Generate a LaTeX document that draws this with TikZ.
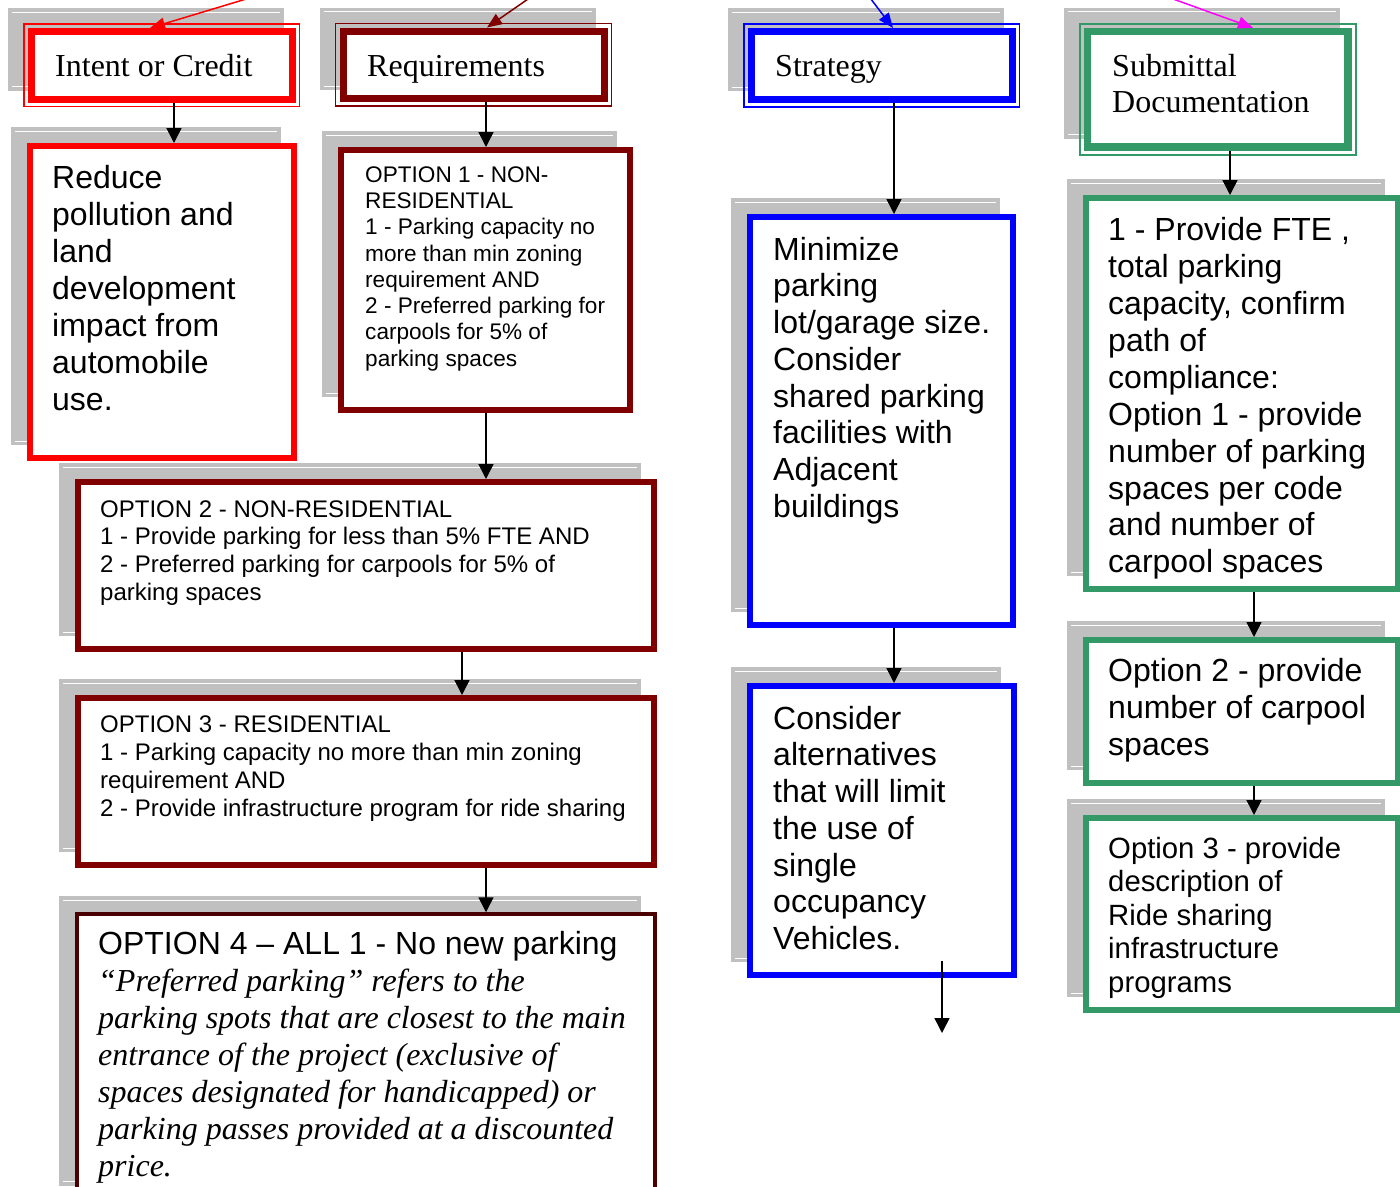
\documentclass[tikz,border=0pt]{standalone}
\usepackage{fontspec}
\setmainfont{Liberation Serif}
\setsansfont{Liberation Sans}
\usetikzlibrary{arrows.meta,backgrounds}

\definecolor{credRed}{HTML}{FF0000}
\definecolor{reqRed}{HTML}{800000}
\definecolor{noteRed}{HTML}{4A0000}
\definecolor{stratBlue}{HTML}{0000FF}
\definecolor{subGreen}{HTML}{339966}
\definecolor{pinkArrow}{HTML}{FF00FF}
\definecolor{shadowGray}{HTML}{C0C0C0}

\tikzset{
  panel/.style={draw=#1, fill=white, line width=6pt, rectangle, inner sep=0pt},
  header/.style={draw=#1, fill=white, line width=7pt, rectangle, inner sep=0pt},
  body/.style 2 args={anchor=north west, inner sep=0pt, align=left,
    font=\sffamily\fontsize{#1}{#2}\selectfont},
  title/.style={anchor=north west, inner sep=0pt, align=left,
    font=\rmfamily\fontsize{32}{36}\selectfont},
  conn/.style={draw=black, line width=1.5pt, -{Triangle[length=15pt,width=15pt]}},
  feed/.style={draw=#1, line width=1.5pt, -{Triangle[length=15pt,width=12pt]}},
}

% grey drop shade behind a box: #1 node, #2 extra margin beyond the border
\newcommand\dropshade[2]{%
  \fill[shadowGray] ([shift={(-16-#2,-16-#2)}]#1.north west) rectangle ([shift={(-16+#2,-16+#2)}]#1.south east);
  \draw[white, line width=1pt] ([shift={(-12-#2,-12-#2)}]#1.north west) -- ([shift={(-20+#2,-12-#2)}]#1.north east);
  \draw[white, line width=1pt] ([shift={(-12-#2,-20+#2)}]#1.south west) -- ([shift={(-20+#2,-20+#2)}]#1.south east);
}
% thin second frame around a column header
\newcommand\headframe[2]{%
  \draw[#2, line width=1.5pt] ([shift={(-4,-4)}]#1.north west) rectangle ([shift={(4,4)}]#1.south east);
}
\newcommand\capstrut{\rule{0pt}{.75em}}
\newcommand\notetext[1]{{\rmfamily\itshape #1}}

\begin{document}
\begin{tikzpicture}[x=1pt, y=-1pt]
\useasboundingbox (0,0) rectangle (1400,1186);

% ---- column headers
\node[header=credRed, minimum width=260.5pt, minimum height=67.5pt] (H1) at (161.75,65.25) {};
\node[header=reqRed, minimum width=261pt, minimum height=67.5pt] (H2) at (473.5,64.75) {};
\node[header=stratBlue, minimum width=260.5pt, minimum height=68pt] (H3) at (881.75,65.5) {};
\node[header=subGreen, line width=7.5pt, minimum width=260.5pt, minimum height=115.5pt] (H4) at (1217.75,89.25) {};
\headframe{H1}{credRed}
\headframe{H2}{reqRed}
\headframe{H3}{stratBlue}
\headframe{H4}{subGreen}

% ---- content boxes
\node[panel=credRed, minimum width=264pt, minimum height=312pt] (A) at (162,302) {};
\node[panel=reqRed, minimum width=289pt, minimum height=260pt] (B) at (485.5,280) {};
\node[panel=reqRed, minimum width=576pt, minimum height=167pt] (C) at (366,565.5) {};
\node[panel=reqRed, minimum width=576pt, minimum height=167pt] (O3) at (366,781.5) {};
\node[panel=noteRed, line width=3.5pt, minimum width=578pt, minimum height=286pt] (O4) at (366,1057) {};
\node[panel=stratBlue, minimum width=263pt, minimum height=408pt] (D) at (881.5,421) {};
\node[panel=stratBlue, minimum width=264pt, minimum height=289pt] (E) at (882,830.5) {};
\node[panel=subGreen, minimum width=312pt, minimum height=391pt] (F) at (1242,393.5) {};
\node[panel=subGreen, minimum width=312pt, minimum height=143pt] (G) at (1242,711.5) {};
\node[panel=subGreen, minimum width=312pt, minimum height=192pt] (H) at (1242,914) {};

\begin{scope}[on background layer]
  \dropshade{H1}{4}
  \dropshade{H2}{4}
  \dropshade{H3}{4}
  \dropshade{H4}{4}
  \dropshade{A}{0}
  \dropshade{B}{0}
  \dropshade{C}{0}
  \dropshade{O3}{0}
  \dropshade{O4}{0}
  \dropshade{D}{0}
  \dropshade{E}{0}
  \dropshade{F}{0}
  \dropshade{G}{0}
  \dropshade{H}{0}
\end{scope}

% ---- texts
\node[title] (tH1) at (55,52) {\capstrut Intent or Credit};
\node[title] (tH2) at (367,52) {\capstrut Requirements};
\node[title] (tH3) at (775,52) {\capstrut Strategy};
\node[title] (tH4) at (1112,52) {\capstrut Submittal\\Documentation};

\node[body={32}{37}] (tA) at (52,164) {\capstrut Reduce\\pollution and\\land\\development\\impact from\\automobile\\use.};
\node[body={22.6}{26.3}] (tB) at (365,165) {\capstrut OPTION 1 - NON-\\RESIDENTIAL\\1 - Parking capacity no\\more than min zoning\\requirement AND\\2 - Preferred parking for\\carpools for 5\% of\\parking spaces};
\node[body={24}{27.7}] (tC) at (100,499) {\capstrut OPTION 2 - NON-RESIDENTIAL\\1 - Provide parking for less than 5\% FTE AND\\2 - Preferred parking for carpools for 5\% of\\parking spaces};
\node[body={24}{28}] (tO3) at (100,714) {\capstrut OPTION 3 - RESIDENTIAL\\1 - Parking capacity no more than min zoning\\requirement AND\\2 - Provide infrastructure program for ride sharing};
\node[body={32}{37}] (tO4) at (98,930) {\capstrut OPTION 4 – ALL 1 - No new parking\\
  \notetext{“Preferred parking” refers to the}\\
  \notetext{parking spots that are closest to the main}\\
  \notetext{entrance of the project (exclusive of}\\
  \notetext{spaces designated for handicapped) or}\\
  \notetext{parking passes provided at a discounted}\\
  \notetext{price.}};
\node[body={32}{36.7}] (tD) at (773,236) {\capstrut Minimize\\parking\\lot/garage size.\\Consider\\shared parking\\facilities with\\Adjacent\\buildings};
\node[body={32}{36.7}] (tE) at (773,705) {\capstrut Consider\\alternatives\\that will limit\\the use of\\single\\occupancy\\Vehicles.};
\node[body={32}{36.9}] (tF) at (1108,216.5) {\capstrut 1 - Provide FTE ,\\total parking\\capacity, confirm\\path of\\compliance:\\Option 1 - provide\\number of parking\\spaces per code\\and number of\\carpool spaces};
\node[body={32}{37}] (tG) at (1108,657) {\capstrut Option 2 - provide\\number of carpool\\spaces};
\node[body={29.3}{33.5}] (tH) at (1108,836) {\capstrut Option 3 - provide\\description of\\Ride sharing\\infrastructure\\programs};

% ---- connector columns
\coordinate (x1) at (174,0);
\coordinate (x2) at (486,0);
\coordinate (x3) at (462,0);
\coordinate (x4) at (894,0);
\coordinate (x5) at (1230,0);
\coordinate (x6) at (1254,0);

\draw[conn] (H1.south -| x1) -- (A.north -| x1);
\draw[conn] (H2.south -| x2) -- (B.north -| x2);
\draw[conn] (B.south -| x2) -- (C.north -| x2);
\draw[conn] (C.south -| x3) -- (O3.north -| x3);
\draw[conn] (O3.south -| x2) -- (O4.north -| x2);
\draw[conn] (H3.south -| x4) -- (D.north -| x4);
\draw[conn] (D.south -| x4) -- (E.north -| x4);
\draw[conn] (H4.south -| x5) -- (F.north -| x5);
\draw[conn] (F.south -| x6) -- (G.north -| x6);
\draw[conn] (G.south -| x6) -- (H.north -| x6);

% open-ended arrow leaving the last strategy box
\coordinate (Etail) at (942,961);
\coordinate (Ehead) at (942,1033);
\draw[conn] (Etail) -- (Ehead);

% incoming arrows entering the headers from above
\coordinate (f1) at (276,-10);
\coordinate (f2) at (541,-10);
\coordinate (f3) at (864,-10);
\coordinate (f4) at (1148,-10);
\draw[feed=credRed] (f1) -- ([xshift=-11.75pt]H1.north);
\draw[feed=reqRed] (f2) -- ([xshift=13.5pt]H2.north);
\draw[feed=stratBlue] (f3) -- ([xshift=11.25pt]H3.north);
\draw[feed=pinkArrow] (f4) -- ([xshift=35.25pt]H4.north);
\end{tikzpicture}
\end{document}
